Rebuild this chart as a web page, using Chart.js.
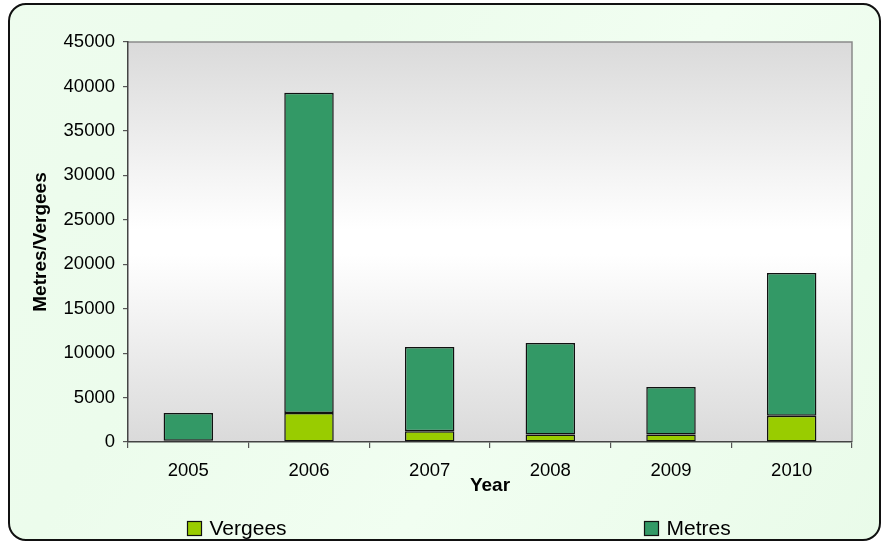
<!DOCTYPE html>
<html>
<head>
<meta charset="utf-8">
<script src="https://cdn.jsdelivr.net/npm/chart.js@4"></script>
<style>
html,body{margin:0;padding:0;background:#fff;}
canvas{display:block;}
</style>
</head>
<body>
<canvas id="c" width="882" height="542"></canvas>
<script>
const years = ['2005', '2006', '2007', '2008', '2009', '2010'];
const vergees = [150, 3250, 1200, 850, 850, 2950];
const metres = [3100, 36050, 9500, 10300, 5350, 16050];
const yTicks = [0, 5000, 10000, 15000, 20000, 25000, 30000, 35000, 40000, 45000];

const FONT = 'Liberation Sans, Arial, sans-serif';

const framePlugin = {
  id: 'frame',
  beforeDraw(chart) {
    const ctx = chart.ctx, W = chart.width, H = chart.height;
    ctx.save();
    ctx.fillStyle = '#ffffff';
    ctx.fillRect(0, 0, W, H);
    const x0 = 9, y0 = 4, x1 = W - 2, y1 = H - 2, r = 17;
    ctx.beginPath();
    ctx.moveTo(x0 + r, y0);
    ctx.lineTo(x1 - r, y0);
    ctx.arcTo(x1, y0, x1, y0 + r, r);
    ctx.lineTo(x1, y1 - r);
    ctx.arcTo(x1, y1, x1 - r, y1, r);
    ctx.lineTo(x0 + r, y1);
    ctx.arcTo(x0, y1, x0, y1 - r, r);
    ctx.lineTo(x0, y0 + r);
    ctx.arcTo(x0, y0, x0 + r, y0, r);
    ctx.closePath();
    const g = ctx.createLinearGradient(0, 0, W, H);
    g.addColorStop(0, '#eefcee');
    g.addColorStop(0.3, '#ecfcec');
    g.addColorStop(0.6, '#f1fef1');
    g.addColorStop(1, '#e9fbe9');
    ctx.fillStyle = g;
    ctx.fill();
    ctx.lineWidth = 2;
    ctx.strokeStyle = '#111';
    ctx.stroke();
    // plot area gradient
    const a = chart.chartArea;
    const pg = ctx.createLinearGradient(0, a.top, 0, a.bottom);
    pg.addColorStop(0, '#dadada');
    pg.addColorStop(0.47, '#ffffff');
    pg.addColorStop(0.53, '#ffffff');
    pg.addColorStop(1, '#dadada');
    ctx.fillStyle = pg;
    ctx.fillRect(a.left, a.top, a.right - a.left, a.bottom - a.top);
    ctx.strokeStyle = '#8a8a8a';
    ctx.lineWidth = 1.5;
    ctx.beginPath();
    ctx.moveTo(a.left, a.top);
    ctx.lineTo(a.right, a.top);
    ctx.lineTo(a.right, a.bottom);
    ctx.stroke();
    ctx.restore();
  },
  afterDraw(chart) {
    const ctx = chart.ctx, W = chart.width;
    const pos = [0.212, 0.730];
    ctx.save();
    ctx.font = '21px ' + FONT;
    ctx.textBaseline = 'middle';
    chart.data.datasets.forEach((ds, i) => {
      const bx = Math.round(W * pos[i]) + 0.5, by = 521.5;
      ctx.fillStyle = ds.backgroundColor;
      ctx.fillRect(bx, by, 14, 14);
      ctx.strokeStyle = '#111';
      ctx.lineWidth = 1.2;
      ctx.strokeRect(bx, by, 14, 14);
      ctx.fillStyle = '#000';
      ctx.fillText(ds.label, bx + 22, by + 8);
    });
    ctx.restore();
  }
};

new Chart(document.getElementById('c'), {
  type: 'bar',
  data: {
    labels: years,
    datasets: [
      { label: 'Vergees', data: vergees, backgroundColor: '#99cc00', borderColor: '#111', borderWidth: 1.5, borderSkipped: false },
      { label: 'Metres', data: metres, backgroundColor: '#339966', borderColor: '#111', borderWidth: 1.5, borderSkipped: false }
    ]
  },
  options: {
    responsive: false,
    animation: false,
    devicePixelRatio: 1,
    layout: { padding: { left: 9, right: 30, top: 42, bottom: 0 } },
    datasets: { bar: { categoryPercentage: 1, barPercentage: 0.41 } },
    plugins: { legend: { display: false }, tooltip: { enabled: false } },
    scales: {
      x: {
        stacked: true,
        afterFit(s) { s.height = 100; },
        grid: { offset: true, drawOnChartArea: false, drawTicks: true, tickLength: 6, color: '#555', lineWidth: 1.2 },
        border: { display: true, color: '#444', width: 1.5 },
        ticks: { color: '#000', font: { family: FONT, size: 18.5 }, padding: 12, maxRotation: 0 },
        title: { display: true, text: 'Year', color: '#000', font: { family: FONT, size: 19, weight: 'bold' }, padding: { top: 0, bottom: 45 } }
      },
      y: {
        stacked: true,
        min: 0, max: 45000,
        afterFit(s) { s.width = 119; },
        afterBuildTicks(s) { s.ticks = yTicks.map(v => ({ value: v })); },
        grid: { drawOnChartArea: false, drawTicks: true, tickLength: 5, color: '#555', lineWidth: 1.2 },
        border: { display: true, color: '#444', width: 1.5 },
        ticks: { color: '#000', font: { family: FONT, size: 18.5 }, padding: 8, callback: v => String(v) },
        title: { display: true, text: 'Metres/Vergees', color: '#000', font: { family: FONT, size: 19, weight: 'bold' }, padding: { top: 20, bottom: 0 } }
      }
    }
  },
  plugins: [framePlugin]
});
</script>
</body>
</html>
